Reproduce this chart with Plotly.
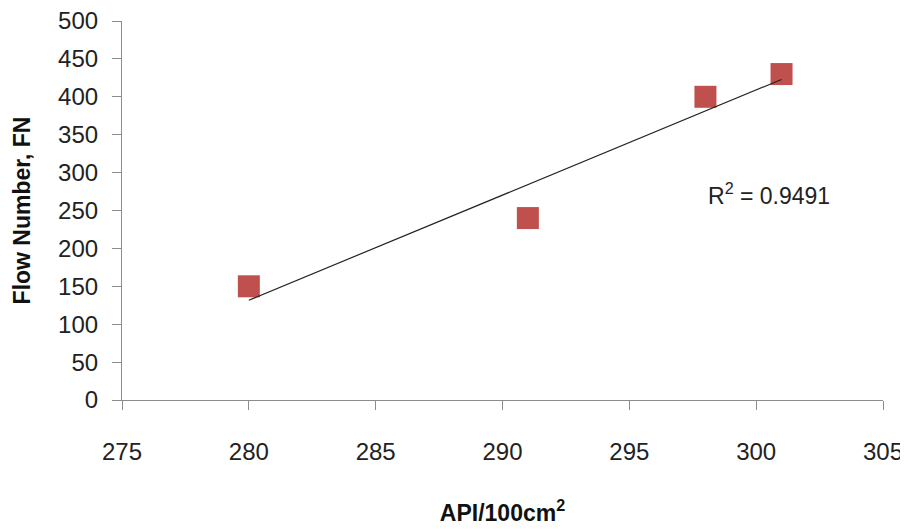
import numpy as np
import plotly.graph_objects as go

api = [280, 291, 298, 301]
flow = [150, 240, 400, 430]
x_ticks = [275, 280, 285, 290, 295, 300, 305]
y_ticks = [0, 50, 100, 150, 200, 250, 300, 350, 400, 450, 500]

xa = np.array(api, float)
ya = np.array(flow, float)
slope, intercept = np.polyfit(xa, ya, 1)
pred = slope * xa + intercept
r2 = 1 - ((ya - pred) ** 2).sum() / ((ya - ya.mean()) ** 2).sum()
xl = np.array([xa.min(), xa.max()])
yl = slope * xl + intercept

FONT = "Liberation Sans, Arial, sans-serif"

fig = go.Figure()
fig.add_trace(go.Scatter(x=api, y=flow, mode="markers",
                         marker=dict(symbol="square", size=22, color="#C0504D",
                                     line=dict(color="#C0504D", width=0)),
                         showlegend=False))
fig.add_trace(go.Scatter(x=xl, y=yl, mode="lines",
                         line=dict(color="#222222", width=1.2), showlegend=False))
fig.add_annotation(x=300.5, y=272, text=f"R<sup>2</sup> = {r2:.4f}", showarrow=False,
                   font=dict(family=FONT, size=23, color="#222222"))

axis_common = dict(showgrid=False, zeroline=False, showline=True, linecolor="#8c8c8c",
                   linewidth=1.2, ticks="outside", ticklen=9, tickcolor="#8c8c8c",
                   tickwidth=1.2, automargin=False, ticklabeloverflow="allow",
                   tickfont=dict(family=FONT, size=24, color="#222222"))
fig.update_xaxes(range=[275, 305], tickvals=x_ticks, ticklabelstandoff=21,
                 title=dict(text="<b>API/100cm<sup>2</sup></b>", standoff=40,
                            font=dict(family=FONT, size=23, color="#111111")),
                 **axis_common)
fig.update_yaxes(range=[0, 500], tickvals=y_ticks, ticklabelstandoff=9,
                 title=dict(text="<b>Flow Number, FN</b>", standoff=21,
                            font=dict(family=FONT, size=23, color="#111111")),
                 **axis_common)
fig.update_layout(width=900, height=521, margin=dict(l=114, r=25, t=13, b=129),
                  plot_bgcolor="white", paper_bgcolor="white")
fig.write_html("out.html")
